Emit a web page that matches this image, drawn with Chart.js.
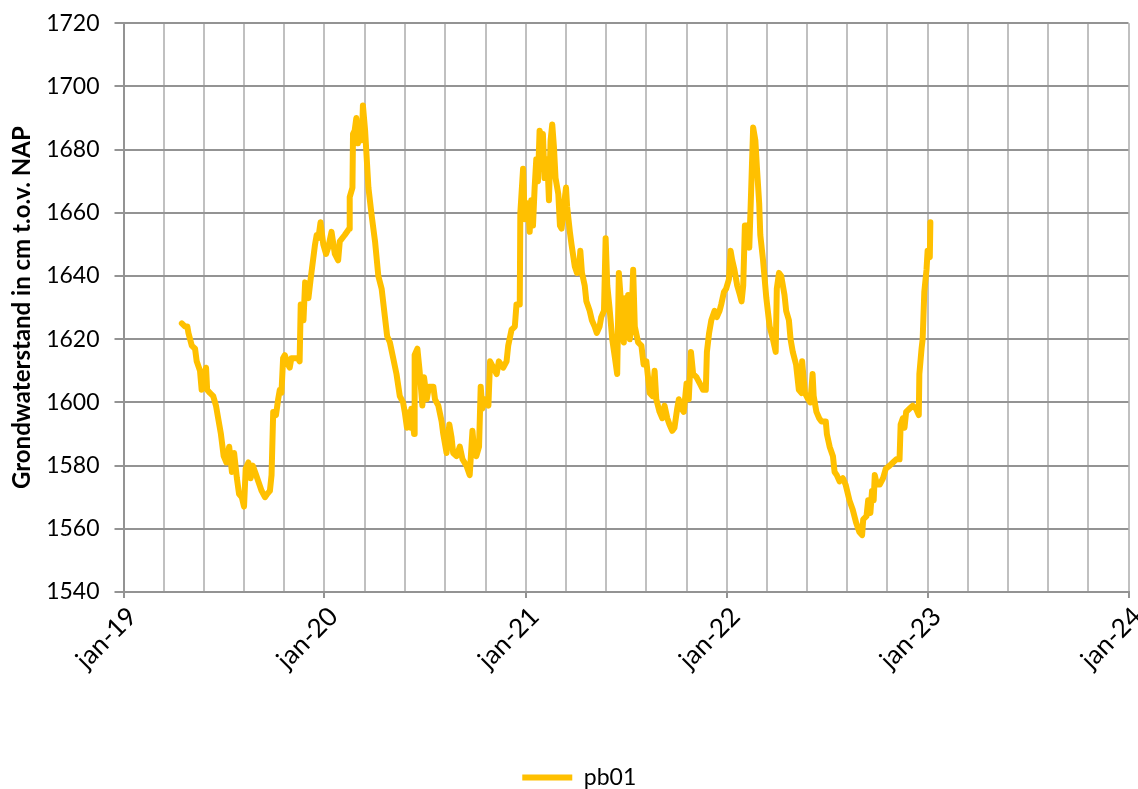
<!DOCTYPE html>
<html lang="nl">
<head>
<meta charset="utf-8">
<title>Grondwaterstand pb01</title>
<script src="https://cdn.jsdelivr.net/npm/chart.js@4.4.1/dist/chart.umd.min.js"></script>
<style>
  html, body { margin: 0; padding: 0; background: #ffffff; overflow: hidden; }
  #wrap { position: relative; width: 1138px; height: 799px; }
</style>
</head>
<body>
<div id="wrap"><canvas id="grafiek" width="1138" height="799"></canvas></div>
<script>
// Meetreeks peilbuis pb01: meetdatum en grondwaterstand (cm t.o.v. NAP)
const reeksNaam = 'pb01';

const meetDatums = [
  '2019-04-17','2019-04-23','2019-04-27','2019-04-29','2019-05-05','2019-05-11','2019-05-14','2019-05-20',
  '2019-05-23','2019-05-27','2019-05-31','2019-06-02','2019-06-07','2019-06-13','2019-06-18','2019-06-22',
  '2019-06-27','2019-07-02','2019-07-07','2019-07-12','2019-07-17','2019-07-21','2019-07-26','2019-07-30',
  '2019-08-04','2019-08-08','2019-08-11','2019-08-16','2019-08-20','2019-08-24','2019-08-30','2019-09-03',
  '2019-09-09','2019-09-15','2019-09-19','2019-09-24','2019-09-27','2019-09-30','2019-10-05','2019-10-09',
  '2019-10-12','2019-10-15','2019-10-18','2019-10-21','2019-10-27','2019-10-30','2019-11-02','2019-11-08',
  '2019-11-14','2019-11-17','2019-11-19','2019-11-24','2019-11-27','2019-12-03','2019-12-07','2019-12-15',
  '2019-12-18','2019-12-21','2019-12-25','2019-12-30',
  '2020-01-04','2020-01-08','2020-01-14','2020-01-20','2020-01-26','2020-01-29','2020-02-07','2020-02-15',
  '2020-02-16','2020-02-21','2020-02-22','2020-02-25','2020-02-28','2020-03-02','2020-03-06','2020-03-09',
  '2020-03-11','2020-03-15','2020-03-21','2020-03-27','2020-04-02','2020-04-08','2020-04-14','2020-04-20',
  '2020-04-24','2020-04-29','2020-05-05','2020-05-11','2020-05-17','2020-05-23','2020-05-26','2020-05-30',
  '2020-06-03','2020-06-06','2020-06-07','2020-06-12','2020-06-13','2020-06-18','2020-06-22','2020-06-27',
  '2020-06-30','2020-07-03','2020-07-05','2020-07-09','2020-07-17','2020-07-20','2020-07-26','2020-08-01',
  '2020-08-04','2020-08-10','2020-08-15','2020-08-19','2020-08-22','2020-08-28','2020-09-03','2020-09-08',
  '2020-09-15','2020-09-21','2020-09-26','2020-09-29','2020-10-03','2020-10-08','2020-10-11','2020-10-14',
  '2020-10-19','2020-10-25','2020-10-28','2020-11-03','2020-11-09','2020-11-13','2020-11-21','2020-11-27',
  '2020-11-30','2020-12-06','2020-12-12','2020-12-15','2020-12-21','2020-12-22','2020-12-27','2020-12-30',
  '2021-01-05','2021-01-08','2021-01-11','2021-01-14','2021-01-17','2021-01-20','2021-01-23','2021-01-26',
  '2021-01-29','2021-02-01','2021-02-04','2021-02-09','2021-02-12','2021-02-15','2021-02-18','2021-02-21',
  '2021-02-24','2021-03-01','2021-03-04','2021-03-07','2021-03-11','2021-03-15','2021-03-17','2021-03-22',
  '2021-03-25','2021-03-31','2021-04-04','2021-04-08','2021-04-10','2021-04-13','2021-04-18','2021-04-21',
  '2021-04-27','2021-05-01','2021-05-06','2021-05-10','2021-05-15','2021-05-18','2021-05-23','2021-05-26',
  '2021-05-29','2021-06-02','2021-06-07','2021-06-12','2021-06-16','2021-06-19','2021-06-24','2021-06-28',
  '2021-06-30','2021-07-03','2021-07-06','2021-07-09','2021-07-12','2021-07-15','2021-07-18','2021-07-24',
  '2021-07-30','2021-08-03','2021-08-08','2021-08-11','2021-08-14','2021-08-19','2021-08-23','2021-08-26',
  '2021-09-01','2021-09-06','2021-09-10','2021-09-15','2021-09-19','2021-09-24','2021-09-28','2021-10-03',
  '2021-10-06','2021-10-11','2021-10-15','2021-10-20','2021-10-24','2021-10-28','2021-11-01','2021-11-07',
  '2021-11-13','2021-11-19','2021-11-24','2021-11-26','2021-11-30','2021-12-04','2021-12-10','2021-12-14',
  '2021-12-19','2021-12-22','2021-12-27','2021-12-31',
  '2022-01-05','2022-01-08','2022-01-11','2022-01-15','2022-01-20','2022-01-25','2022-01-28','2022-01-31',
  '2022-02-03','2022-02-07','2022-02-11','2022-02-14','2022-02-18','2022-02-22','2022-02-25','2022-03-01',
  '2022-03-03','2022-03-08','2022-03-14','2022-03-20','2022-03-26','2022-03-31','2022-04-02','2022-04-06',
  '2022-04-10','2022-04-16','2022-04-19','2022-04-24','2022-04-27','2022-05-01','2022-05-07','2022-05-12',
  '2022-05-17','2022-05-18','2022-05-23','2022-05-29','2022-06-02','2022-06-06','2022-06-08','2022-06-13',
  '2022-06-18','2022-06-22','2022-06-30','2022-07-02','2022-07-07','2022-07-13','2022-07-16','2022-07-20',
  '2022-07-25','2022-07-31','2022-08-05','2022-08-12','2022-08-18','2022-08-24','2022-08-30','2022-09-04',
  '2022-09-06','2022-09-12','2022-09-15','2022-09-19','2022-09-22','2022-09-25','2022-09-27','2022-10-01',
  '2022-10-06','2022-10-12','2022-10-17','2022-10-24','2022-10-30','2022-11-05','2022-11-11','2022-11-13',
  '2022-11-17','2022-11-20','2022-11-23','2022-11-29','2022-12-05','2022-12-11','2022-12-16','2022-12-17',
  '2022-12-21','2022-12-23','2022-12-26','2022-12-30','2023-01-01','2023-01-05','2023-01-06'
];

const grondwaterstand = [
  1625,1624,1624,1622,1618,1617,1613,1610,
  1604,1608,1611,1604,1603,1602,1599,1595,
  1590,1583,1581,1586,1578,1584,1576,1571,
  1570,1567,1579,1581,1576,1580,1577,1575,
  1572,1570,1571,1572,1577,1597,1596,1601,
  1604,1603,1614,1615,1612,1611,1614,1614,
  1614,1613,1631,1626,1638,1633,1639,1650,
  1653,1652,1657,1650,
  1647,1649,1654,1647,1645,1651,1653,1655,
  1665,1668,1685,1686,1690,1682,1688,1683,
  1694,1686,1668,1659,1651,1640,1636,1627,
  1621,1619,1614,1609,1602,1600,1597,1592,
  1597,1592,1598,1590,1615,1617,1610,1599,
  1608,1604,1601,1605,1605,1601,1599,1594,
  1590,1584,1593,1589,1584,1583,1586,1582,
  1580,1577,1591,1585,1583,1586,1605,1598,
  1601,1599,1613,1611,1609,1613,1611,1613,
  1618,1623,1624,1631,1631,1660,1674,1658,
  1663,1654,1664,1656,1668,1677,1670,1686,
  1680,1685,1671,1677,1664,1683,1688,1681,
  1671,1666,1656,1655,1662,1668,1662,1654,
  1650,1643,1641,1643,1648,1641,1637,1632,
  1629,1626,1624,1622,1624,1627,1629,1652,
  1637,1630,1620,1614,1609,1641,1629,1619,
  1633,1624,1634,1620,1626,1642,1624,1619,
  1618,1612,1613,1608,1603,1602,1610,1601,
  1597,1595,1599,1595,1593,1591,1592,1598,
  1601,1598,1597,1606,1601,1616,1609,1608,
  1606,1604,1604,1616,1622,1626,1629,1627,
  1629,1631,1635,1636,
  1639,1648,1645,1642,1637,1634,1632,1637,
  1656,1656,1649,1665,1687,1683,1674,1663,
  1653,1645,1633,1624,1620,1616,1636,1641,
  1640,1634,1629,1626,1620,1616,1612,1604,
  1603,1613,1603,1601,1600,1609,1602,1597,
  1595,1594,1594,1590,1586,1583,1578,1577,
  1575,1576,1574,1569,1566,1562,1559,1558,
  1563,1564,1569,1565,1572,1569,1577,1574,
  1574,1576,1579,1580,1581,1582,1582,1593,
  1595,1592,1597,1598,1599,1598,1596,1609,
  1617,1620,1635,1642,1648,1646,1657
];

// As-indeling
const asJaren = [2019, 2020, 2021, 2022, 2023, 2024];
const yMin = 1540;
const yMax = 1720;
const yStap = 20;
const maandAfkorting = ['jan','feb','mrt','apr','mei','jun','jul','aug','sep','okt','nov','dec'];
const asTitel = 'Grondwaterstand in cm t.o.v. NAP';

// Gridlijnen: vijf gelijke vakken per jaar, label op 1 januari
function tijdasTicks() {
  const t = [];
  for (let j = 0; j < asJaren.length - 1; j++) {
    const a = Date.UTC(asJaren[j], 0, 1);
    const b = Date.UTC(asJaren[j + 1], 0, 1);
    for (let k = 0; k < 5; k++) t.push(a + (b - a) * k / 5);
  }
  t.push(Date.UTC(asJaren[asJaren.length - 1], 0, 1));
  return t;
}
function isJaarbegin(v) {
  const d = new Date(v);
  return d.getUTCMonth() === 0 && d.getUTCDate() === 1 && d.getUTCHours() === 0;
}
function datumLabel(v) {
  const d = new Date(v);
  return maandAfkorting[d.getUTCMonth()] + '-' + String(d.getUTCFullYear()).slice(2);
}

const punten = meetDatums.map((d, i) => ({ x: Date.parse(d), y: grondwaterstand[i] }));

const lettertype = 'Lato';
const tekstKleur = '#000000';
const hoofdGrid = '#939393';
const hulpGrid = '#c0c0c0';

Chart.defaults.font.family = lettertype;

new Chart(document.getElementById('grafiek'), {
  type: 'line',
  data: {
    datasets: [{
      label: reeksNaam,
      data: punten,
      borderColor: '#FFC000',
      backgroundColor: '#FFC000',
      borderWidth: 6,
      borderJoinStyle: 'round',
      borderCapStyle: 'round',
      pointRadius: 0,
      pointHoverRadius: 0,
      tension: 0,
      fill: false
    }]
  },
  options: {
    responsive: false,
    animation: false,
    devicePixelRatio: 1,
    layout: { padding: { top: 23.3, right: 9.5, bottom: 0, left: 30 } },
    plugins: {
      tooltip: { enabled: false },
      legend: {
        position: 'bottom',
        labels: {
          usePointStyle: true,
          pointStyle: 'line',
          pointStyleWidth: 50,
          color: tekstKleur,
          font: { family: lettertype, size: 23 },
          padding: 10
        }
      }
    },
    scales: {
      x: {
        type: 'linear',
        min: Date.UTC(asJaren[0], 0, 1),
        max: Date.UTC(asJaren[asJaren.length - 1], 0, 1),
        afterBuildTicks(scale) {
          scale.ticks = tijdasTicks().map(v => ({ value: v }));
        },
        afterFit(scale) {
          scale.height = 164;
          scale.paddingLeft = 0;
          scale.paddingRight = 0;
        },
        grid: {
          color: hulpGrid,
          lineWidth: 2,
          tickLength: 6,
          tickColor: ctx => (ctx.tick && isJaarbegin(ctx.tick.value)) ? hoofdGrid : 'rgba(0,0,0,0)'
        },
        border: { color: hoofdGrid, width: 2 },
        ticks: {
          autoSkip: false,
          maxRotation: 45,
          minRotation: 45,
          padding: 3,
          labelOffset: 9,
          color: tekstKleur,
          font: { family: lettertype, size: 26 },
          callback: v => isJaarbegin(v) ? datumLabel(v) : ''
        }
      },
      y: {
        min: yMin,
        max: yMax,
        afterFit(scale) {
          scale.width = 93.5;
          scale.paddingTop = 0;
          scale.paddingBottom = 0;
        },
        grid: { color: hoofdGrid, lineWidth: 2, tickLength: 9 },
        border: { color: hoofdGrid, width: 2 },
        ticks: {
          stepSize: yStap,
          padding: 15,
          color: tekstKleur,
          font: { family: lettertype, size: 23 },
          callback: v => String(v)
        },
        title: {
          display: true,
          text: asTitel,
          color: tekstKleur,
          font: { family: lettertype, size: 24, weight: 'bold' },
          padding: { top: -22.4, bottom: 0 }
        }
      }
    }
  }
});
</script>
</body>
</html>
